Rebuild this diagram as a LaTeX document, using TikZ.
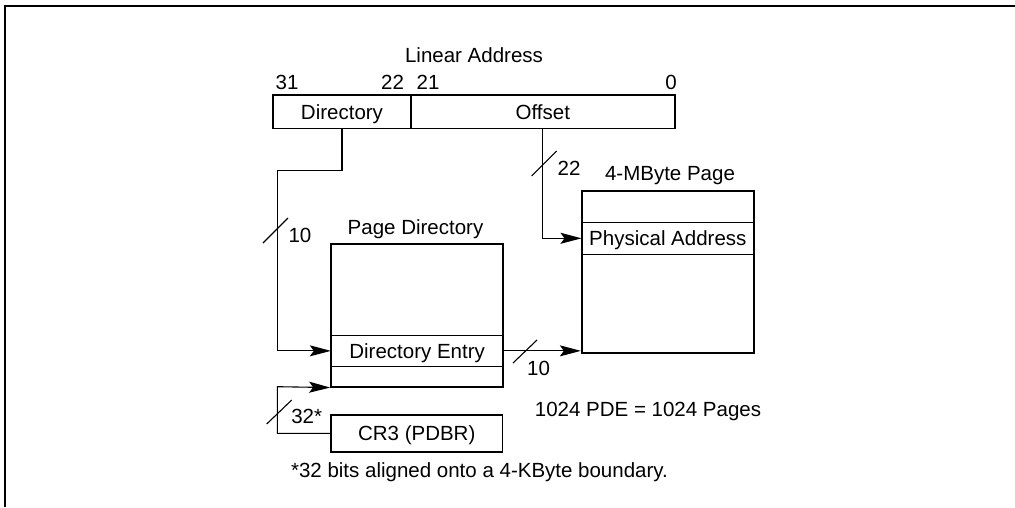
\documentclass[tikz,border=0pt]{standalone}
\usepackage{fontspec}
\setmainfont{Liberation Sans}
\usetikzlibrary{arrows.meta}
\begin{document}
\begin{tikzpicture}[x=1pt,y=-1pt,
  every node/.style={font=\fontsize{20.5}{24}\selectfont, inner sep=0pt, text height=14.7pt, text depth=0pt},
  boxline/.style={line width=1.7pt},
  thinline/.style={line width=0.9pt},
  conn/.style={line width=1.1pt},
  arr/.style={conn,-{Stealth[length=21pt,width=11pt,inset=4pt]}},
  slash/.style={line width=1.1pt},
]
\useasboundingbox (0,0) rectangle (1015,507);
\draw[line width=2pt] (5,507) -- (5,6) -- (1015,6);

% Linear address
\node (la) at (474,55) {Linear Address};
\node (b31) at (287,81.7) {31};
\node (b22) at (392.5,81.7) {22};
\node (b21) at (428,81.7) {21};
\node (b0) at (671,81.7) {0};
\node[minimum width=137.4pt, minimum height=33pt] (dirf) at (342,111.7) {Directory};
\node[minimum width=264.3pt, minimum height=33pt] (offf) at (542.85,111.7) {Offset};
\draw[boxline] (dirf.north west) rectangle (offf.south east);
\draw[line width=1.2pt] (dirf.north east) -- (dirf.south east);

% Page directory
\node (pdl) at (415.5,226.7) {Page Directory};
\node[draw, boxline, minimum width=172.3pt, minimum height=142.7pt] (pd) at (417.15,315.35) {};
\node[minimum width=172.3pt, minimum height=30.3pt] (pde) at (417.15,350.85) {Directory Entry};
\draw[thinline] (pde.north west) -- (pde.north east) (pde.south west) -- (pde.south east);

% 4-MByte page
\node (mbl) at (670,173.3) {4-MByte Page};
\node[draw, boxline, minimum width=172.3pt, minimum height=161.7pt] (mb) at (667.85,271.85) {};
\node[minimum width=172.3pt, minimum height=32pt] (pa) at (667.85,238.3) {Physical Address};
\draw[thinline] (pa.north west) -- (pa.north east) (pa.south west) -- (pa.south east);

% CR3
\node[draw, boxline, minimum width=171.5pt, minimum height=36.7pt] (cr3) at (416.75,433.35) {CR3 (PDBR)};

% notes
\node (note1) at (648,409) {1024 PDE = 1024 Pages};
\node (note2) at (479.5,470) {*32 bits aligned onto a 4-KByte boundary.};

% connectors
\coordinate (c1) at (277.3,170.7);
\coordinate (c2) at (277.3,386.7);
\draw[arr] (dirf.south) |- (c1) |- (pde.west);
\draw[arr] (offf.south) |- (pa.west);
\draw[arr] (pde.east) -- (pde.east -| mb.west);
\draw[arr] (cr3.west) -| (c2) -- (pd.south west);

% bus width markers
\draw[slash] (263,243) -- (288,218);
\node (w10a) at (300,235.5) {10};
\draw[slash] (531.7,176) -- (556.7,151);
\node (w22) at (569,168) {22};
\draw[slash] (513,363) -- (537,340);
\node (w10b) at (538.5,368) {10};
\draw[slash] (266.7,424) -- (291.7,400);
\node (w32) at (306.7,416) {32*};
\end{tikzpicture}
\end{document}
